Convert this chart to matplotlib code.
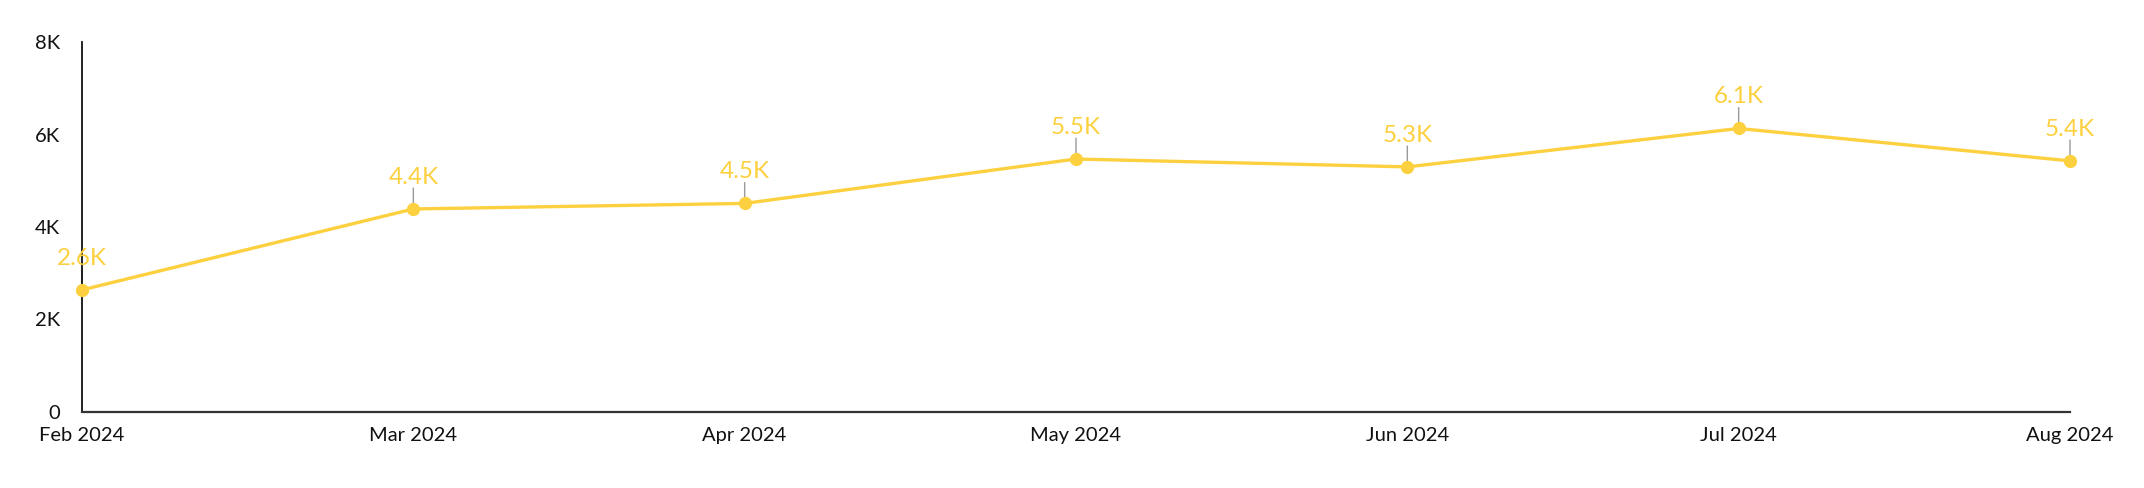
import matplotlib
matplotlib.use("Agg")
import matplotlib.pyplot as plt
from matplotlib.ticker import FuncFormatter

# datos
meses = ["Feb 2024", "Mar 2024", "Apr 2024", "May 2024", "Jun 2024", "Jul 2024", "Aug 2024"]
valores = [2640, 4390, 4510, 5470, 5300, 6130, 5430]
y_ticks = [0, 2000, 4000, 6000, 8000]

amarillo = "#FDD03F"

plt.rcParams["font.family"] = ["Lato", "DejaVu Sans"]

fig = plt.figure(figsize=(21.44, 4.88), dpi=100)
ax = fig.add_axes([82 / 2144, 76 / 488, (2070 - 82) / 2144, (412 - 42) / 488])

x = list(range(len(meses)))
ax.plot(x, valores, color=amarillo, linewidth=2.4, marker="o", markersize=8.5,
        clip_on=False, zorder=3)

# etiquetas de datos con línea guía gris
for xi, v in zip(x, valores):
    ax.annotate("", xy=(xi, v), xycoords="data", xytext=(0, 15), textcoords="offset points",
                arrowprops=dict(arrowstyle="-", color="#9a9a9a", lw=1.0, shrinkA=0, shrinkB=0),
                zorder=2, annotation_clip=False)
    ax.annotate(f"{v / 1000:.1f}K", xy=(xi, v), xytext=(0, 18), textcoords="offset points",
                ha="center", va="baseline", fontsize=17.5, color=amarillo,
                annotation_clip=False, zorder=4)

ax.set_xlim(0, len(meses) - 1)
ax.set_ylim(0, 8000)
ax.set_xticks(x)
ax.set_xticklabels(meses)
ax.set_yticks(y_ticks)
ax.yaxis.set_major_formatter(FuncFormatter(lambda v, p: "0" if v == 0 else f"{v / 1000:.0f}K"))

ax.tick_params(axis="y", length=0, pad=16, labelsize=14.5, labelcolor="#111111")
ax.tick_params(axis="x", length=0, pad=11, labelsize=14.5, labelcolor="#111111")

for lado in ["top", "right"]:
    ax.spines[lado].set_visible(False)
ax.spines["left"].set_color("#111111")
ax.spines["left"].set_linewidth(1.3)
ax.spines["bottom"].set_color("#333333")
ax.spines["bottom"].set_linewidth(1.6)

fig.savefig("out.png", dpi=100, facecolor="white")
